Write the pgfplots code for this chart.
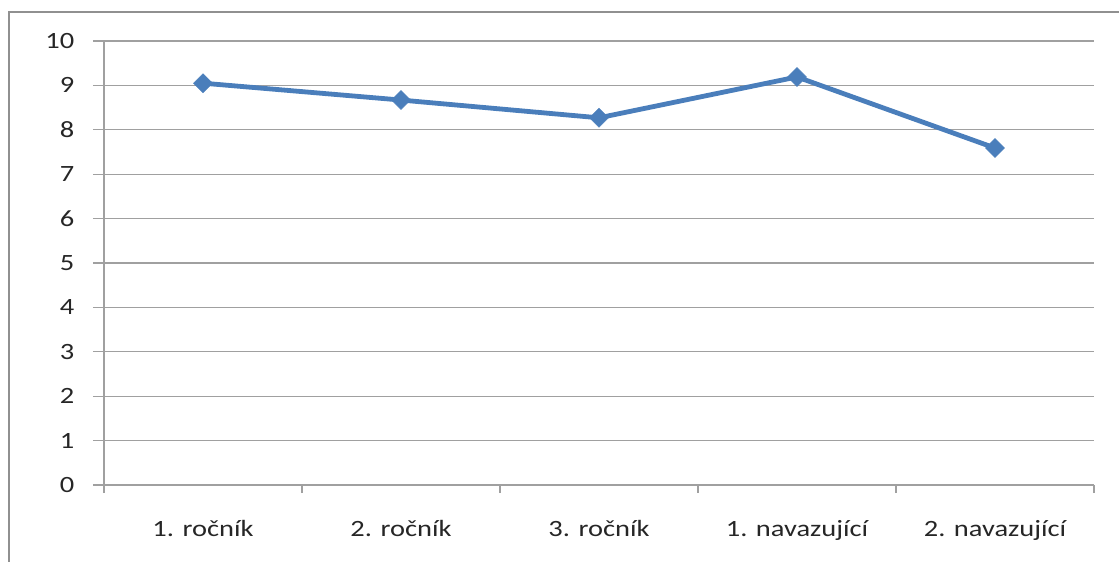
\documentclass[border=0pt]{standalone}
\usepackage{pgfplots}
\pgfplotsset{compat=1.18}
\usepackage{fontspec}
\setmainfont{Carlito}[FakeStretch=1.22]
\definecolor{serblue}{HTML}{4A7EBB}
\definecolor{gridgray}{HTML}{A0A0A0}
\begin{document}
\begin{tikzpicture}
\useasboundingbox (0pt,0pt) rectangle (839.25pt,420.75pt);
\draw[color=gridgray!90!black, line width=1.5pt] (6.375pt,-15pt) -- (6.375pt,411.75pt) -- (855pt,411.75pt);
\begin{axis}[
  at={(78pt,57pt)}, anchor=south west,
  scale only axis, width=742.5pt, height=333pt,
  xmin=0.5, xmax=5.5, ymin=0, ymax=10,
  axis lines=left, axis line style={draw=gridgray, line width=0.9pt, -},
  xtick={1,2,3,4,5},
  xticklabels={1. ročník, 2. ročník, 3. ročník, 1. navazující, 2. navazující},
  minor xtick={0.5,1.5,2.5,3.5,4.5,5.5},
  every major x tick/.append style={draw=none},
  minor tick length=6pt,
  ytick={0,1,...,10},
  major tick length=8.25pt,
  tick align=outside,
  tick style={draw=gridgray, line width=0.9pt},
  ymajorgrids, grid style={draw=gridgray, line width=0.9pt},
  xmajorgrids=false, xminorgrids=false,
  tick label style={font=\fontsize{17.5}{20}\selectfont, color=black!85},
  /pgf/number format/assume math mode=true,
  yticklabel style={xshift=-10.5pt},
  xticklabel style={yshift=-15pt},
  clip=false,
]
\addplot[color=serblue, line width=3.6pt, mark=square*, mark size=5pt,
  mark options={rotate=45, line width=0.5pt, fill=serblue}]
  coordinates {(1,9.05) (2,8.67) (3,8.27) (4,9.19) (5,7.59)};
\end{axis}
\end{tikzpicture}
\end{document}
